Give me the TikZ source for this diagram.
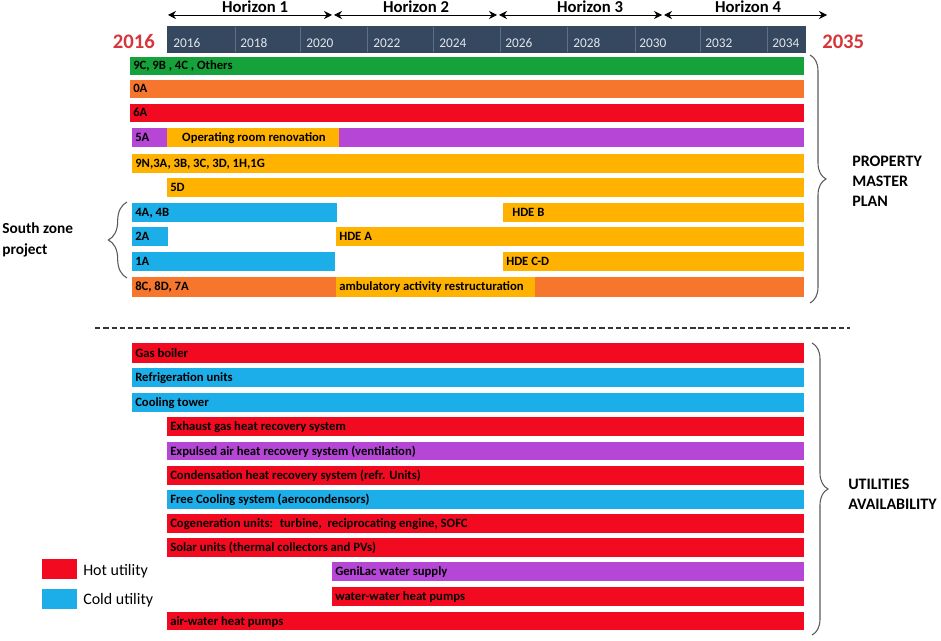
\documentclass[tikz,border=0pt]{standalone}
\usepackage{fontspec}
\setmainfont{Carlito}
\usetikzlibrary{arrows.meta,decorations.pathreplacing}
\definecolor{cgreen}{HTML}{16A23A}
\definecolor{corange}{HTML}{F6762E}
\definecolor{cred}{HTML}{F20A20}
\definecolor{cpurple}{HTML}{B646D6}
\definecolor{cyellow}{HTML}{FFB300}
\definecolor{cblue}{HTML}{1CAEE8}
\definecolor{chdr}{HTML}{36485F}
\definecolor{csep}{HTML}{5E6E84}
\definecolor{cyeartxt}{HTML}{E2E6EC}
\definecolor{cbigred}{HTML}{D5363B}
\definecolor{cbrace}{HTML}{5A5A5A}
\newcommand\gbar[7]{%
  \fill[#6] (#2,#3) rectangle (#4,#5);
  \node[lbl] (#1) at ({#2+3},{(#3+#5)/2+4}) {#7};}
\begin{document}
\begin{tikzpicture}[x=0.75pt,y=-0.75pt,
  lbl/.style={font=\bfseries\fontsize{9.5}{11}\selectfont, anchor=base west, inner sep=0pt, text=black},
  lblc/.style={lbl, anchor=base},
  yr/.style={font=\fontsize{10}{12}\selectfont, anchor=base west, inner sep=0pt, text=cyeartxt},
  bigyr/.style={font=\bfseries\fontsize{15.5}{18}\selectfont, inner sep=0pt, text=cbigred},
  hz/.style={font=\bfseries\fontsize{12.5}{15}\selectfont, anchor=base, inner sep=0pt},
  harr/.style={draw=black, line width=0.6pt, {Stealth[length=6pt,width=6pt]}-{Stealth[length=6pt,width=6pt]}},
  sect/.style={font=\bfseries\fontsize{12}{15}\selectfont, align=left, anchor=north west, inner sep=0pt},
  brc/.style={draw=cbrace, line width=0.8pt, decorate, decoration={brace, amplitude=#1}},
  leg/.style={font=\fontsize{12}{14}\selectfont, anchor=base west, inner sep=0pt}]
\useasboundingbox (0,0) rectangle (941,641);

% header timeline
\fill[chdr] (167,26) rectangle (806,53);
\foreach \x in {235,300,367,433,500,567,635,700,767}
  \draw[csep, line width=0.6pt] (\x,27) -- (\x,52);
\foreach \x/\y in {173/2016,240/2018,306/2020,373/2022,439/2024,505/2026,573/2028,639/2030,705/2032,772/2034}
  \node[yr] (yr\y) at (\x,48) {\y};
\node[bigyr, anchor=base east] (start) at (155,49) {2016};
\node[bigyr, anchor=base west] (finish) at (822,49) {2035};

% horizons
\coordinate (h0) at (168,15);
\coordinate (h1) at (332,15);
\coordinate (h1b) at (334,15);
\coordinate (h2) at (497,15);
\coordinate (h2b) at (499,15);
\coordinate (h3) at (662,15);
\coordinate (h3b) at (664,15);
\coordinate (h4) at (827,15);
\draw[harr] (h0) -- (h1);
\draw[harr] (h1b) -- (h2);
\draw[harr] (h2b) -- (h3);
\draw[harr] (h3b) -- (h4);
\node[hz] (hz1) at (255,13) {Horizon 1};
\node[hz] (hz2) at (416,13) {Horizon 2};
\node[hz] (hz3) at (590,13) {Horizon 3};
\node[hz] (hz4) at (748,13) {Horizon 4};

% property master plan bars
\gbar{r1}{130}{57}{804}{75}{cgreen}{9C, 9B , 4C , Others}
\gbar{r2}{130}{80}{804}{98}{corange}{0A}
\gbar{r3}{130}{104}{804}{122}{cred}{6A}
\gbar{r4}{132}{128}{804}{147}{cpurple}{5A}
\fill[cyellow] (167,128) rectangle (339,147);
\node[lblc] (orr) at (254,141.5) {Operating room renovation};
\gbar{r5}{132}{154}{804}{173}{cyellow}{9N,3A, 3B, 3C, 3D, 1H,1G}
\gbar{r6}{167}{178}{804}{197}{cyellow}{5D}
\gbar{r7}{132}{203}{337}{222}{cblue}{4A, 4B}
\gbar{r7b}{503}{203}{804}{222}{cyellow}{\hspace{4.5pt}HDE B}
\gbar{r8}{132}{227}{168}{246}{cblue}{2A}
\gbar{r8b}{336}{227}{804}{246}{cyellow}{HDE A}
\gbar{r9}{132}{252}{335}{271}{cblue}{1A}
\gbar{r9b}{503}{252}{804}{271}{cyellow}{HDE C-D}
\gbar{r10}{132}{277}{804}{297}{corange}{8C, 8D, 7A}
\fill[cyellow] (336,277) rectangle (535,297);
\node[lbl] (amb) at (339,291) {ambulatory activity restructuration};

% separator
\coordinate (d0) at (95,328);
\coordinate (d1) at (850,328);
\draw[black!80, line width=0.8pt, dash pattern=on 4pt off 2.2pt] (d0) -- (d1);

% utilities bars
\gbar{u1}{132}{343}{804}{363}{cred}{Gas boiler}
\gbar{u2}{132}{368}{804}{387}{cblue}{Refrigeration units}
\gbar{u3}{132}{393}{804}{412}{cblue}{Cooling tower}
\gbar{u4}{167}{417}{804}{436}{cred}{Exhaust gas heat recovery system}
\gbar{u5}{167}{442}{804}{460}{cpurple}{Expulsed air heat recovery system (ventilation)}
\gbar{u6}{167}{466}{804}{485}{cred}{Condensation heat recovery system (refr. Units)}
\gbar{u7}{167}{490}{804}{509}{cblue}{Free Cooling system (aerocondensors)}
\gbar{u8}{167}{514}{804}{533}{cred}{Cogeneration units:~ turbine,~ reciprocating engine, SOFC}
\gbar{u9}{167}{538}{804}{557}{cred}{Solar units (thermal collectors and PVs)}
\gbar{u10}{332}{562}{804}{581}{cpurple}{GeniLac water supply}
\gbar{u11}{332}{587}{804}{606}{cred}{water-water heat pumps}
\gbar{u12}{167}{612}{804}{630}{cred}{air-water heat pumps}

% braces
\coordinate (pb0) at (810,55);
\coordinate (pb1) at (810,303);
\draw[brc=12pt] (pb0) -- (pb1);
\coordinate (ub0) at (812,343);
\coordinate (ub1) at (812,635);
\draw[brc=12pt] (ub0) -- (ub1);
\coordinate (sb0) at (127,278);
\coordinate (sb1) at (127,202);
\draw[brc=14pt] (sb0) -- (sb1);

% section labels
\node[sect] (pmp) at (852,156) {PROPERTY\\[0pt]MASTER\\[0pt]PLAN};
\node[sect] (ua) at (848,479) {UTILITIES\\[0pt]AVAILABILITY};
\node[sect, font=\bfseries\fontsize{11.5}{16}\selectfont] (szp) at (2,222) {South zone\\project};

% legend
\fill[cred] (42,559) rectangle (77,579);
\node[leg] (hot) at (83,575) {Hot utility};
\fill[cblue] (42,589) rectangle (77,609);
\node[leg] (cold) at (83,604) {Cold utility};
\end{tikzpicture}
\end{document}
